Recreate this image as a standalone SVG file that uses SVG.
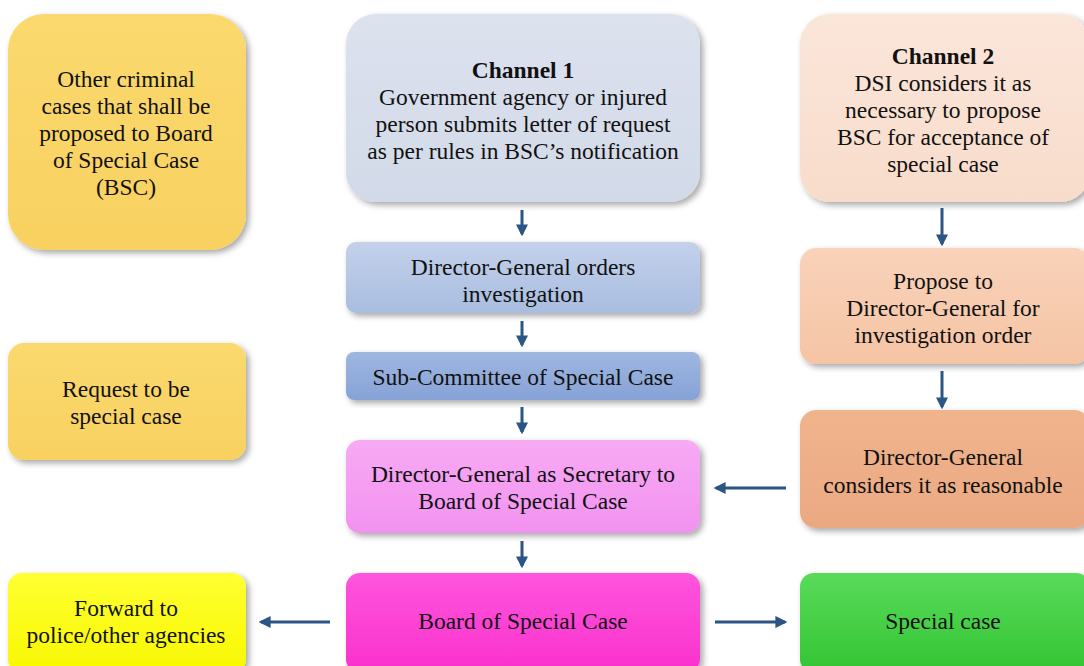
<svg xmlns="http://www.w3.org/2000/svg" width="1084" height="666" viewBox="0 0 1084 666">
<defs>
<filter id="sh" x="-10%" y="-10%" width="125%" height="125%">
<feDropShadow dx="3" dy="3" stdDeviation="3" flood-color="#000" flood-opacity="0.35"/>
</filter>
<linearGradient id="gGold" x1="0" y1="0" x2="0" y2="1"><stop offset="0" stop-color="#FBD96E"/><stop offset="1" stop-color="#F8D160"/></linearGradient>
<linearGradient id="gC1" x1="0" y1="0" x2="0" y2="1"><stop offset="0" stop-color="#DCE2EE"/><stop offset="1" stop-color="#D2D9E8"/></linearGradient>
<linearGradient id="gC2" x1="0" y1="0" x2="0" y2="1"><stop offset="0" stop-color="#FBE6DA"/><stop offset="1" stop-color="#F8DCCB"/></linearGradient>
<linearGradient id="gDG" x1="0" y1="0" x2="0" y2="1"><stop offset="0" stop-color="#C3D1EA"/><stop offset="1" stop-color="#A9BDE0"/></linearGradient>
<linearGradient id="gSub" x1="0" y1="0" x2="0" y2="1"><stop offset="0" stop-color="#9FB7E0"/><stop offset="1" stop-color="#86A2D6"/></linearGradient>
<linearGradient id="gSec" x1="0" y1="0" x2="0" y2="1"><stop offset="0" stop-color="#F7AAF4"/><stop offset="1" stop-color="#F292F0"/></linearGradient>
<linearGradient id="gBoard" x1="0" y1="0" x2="0" y2="1"><stop offset="0" stop-color="#FF55DD"/><stop offset="1" stop-color="#FA30CC"/></linearGradient>
<linearGradient id="gProp" x1="0" y1="0" x2="0" y2="1"><stop offset="0" stop-color="#F9D3BA"/><stop offset="1" stop-color="#F5C4A4"/></linearGradient>
<linearGradient id="gCons" x1="0" y1="0" x2="0" y2="1"><stop offset="0" stop-color="#F0B48C"/><stop offset="1" stop-color="#EBA982"/></linearGradient>
<linearGradient id="gFwd" x1="0" y1="0" x2="0" y2="1"><stop offset="0" stop-color="#FFFF33"/><stop offset="1" stop-color="#F8F800"/></linearGradient>
<linearGradient id="gSpec" x1="0" y1="0" x2="0" y2="1"><stop offset="0" stop-color="#5ADB5A"/><stop offset="1" stop-color="#33C433"/></linearGradient>
<marker id="ah" markerWidth="4" markerHeight="4" refX="3.2" refY="2" orient="auto" markerUnits="strokeWidth">
<path d="M0,0 L4,2 L0,4 Z" fill="#2A5584"/>
</marker>
</defs>
<style>
.box{filter:url(#sh)}
.t{font-size:23.5px;fill:#111;text-anchor:middle}
.b{font-weight:bold}
.c{stroke:#2A5584;stroke-width:3;fill:none;marker-end:url(#ah)}
</style>
<rect width="1084" height="666" fill="#fff"/>
<g font-family="Liberation Serif, Times New Roman, serif">
<g id="n-other">
<rect class="box" x="8" y="14" width="238" height="236" rx="36" fill="url(#gGold)"/>
<text class="t" x="126" y="87">Other criminal</text>
<text class="t" x="126" y="114">cases that shall be</text>
<text class="t" x="126" y="141">proposed to Board</text>
<text class="t" x="126" y="168">of Special Case</text>
<text class="t" x="126" y="195">(BSC)</text>
</g>

<g id="n-ch1">
<rect class="box" x="346" y="14" width="354" height="188" rx="30" fill="url(#gC1)"/>
<text class="t b" x="523" y="78">Channel 1</text>
<text class="t" x="523" y="105">Government agency or injured</text>
<text class="t" x="523" y="132">person submits letter of request</text>
<text class="t" x="523" y="159">as per rules in BSC’s notification</text>
</g>

<g id="n-ch2">
<rect class="box" x="800" y="14" width="290" height="188" rx="30" fill="url(#gC2)"/>
<text class="t b" x="943" y="64">Channel 2</text>
<text class="t" x="943" y="91">DSI considers it as</text>
<text class="t" x="943" y="118">necessary to propose</text>
<text class="t" x="943" y="145">BSC for acceptance of</text>
<text class="t" x="943" y="172">special case</text>
</g>

<g id="n-dgorders">
<rect class="box" x="346" y="242" width="354" height="71" rx="10" fill="url(#gDG)"/>
<text class="t" x="523" y="275">Director-General orders</text>
<text class="t" x="523" y="302">investigation</text>
</g>

<g id="n-sub">
<rect class="box" x="346" y="352" width="354" height="48" rx="8" fill="url(#gSub)"/>
<text class="t" x="523" y="385">Sub-Committee of Special Case</text>
</g>

<g id="n-sec">
<rect class="box" x="346" y="440" width="354" height="93" rx="14" fill="url(#gSec)"/>
<text class="t" x="523" y="482">Director-General as Secretary to</text>
<text class="t" x="523" y="509">Board of Special Case</text>
</g>

<g id="n-board">
<rect class="box" x="346" y="573" width="354" height="100" rx="14" fill="url(#gBoard)"/>
<text class="t" x="523" y="629">Board of Special Case</text>
</g>

<g id="n-request">
<rect class="box" x="8" y="343" width="238" height="117" rx="16" fill="url(#gGold)"/>
<text class="t" x="126" y="397">Request to be</text>
<text class="t" x="126" y="424">special case</text>
</g>

<g id="n-propose">
<rect class="box" x="800" y="248" width="290" height="116" rx="16" fill="url(#gProp)"/>
<text class="t" x="943" y="289">Propose to</text>
<text class="t" x="943" y="316">Director-General for</text>
<text class="t" x="943" y="343">investigation order</text>
</g>

<g id="n-considers">
<rect class="box" x="800" y="410" width="290" height="118" rx="16" fill="url(#gCons)"/>
<text class="t" x="943" y="465">Director-General</text>
<text class="t" x="943" y="493">considers it as reasonable</text>
</g>

<g id="n-forward">
<rect class="box" x="8" y="573" width="238" height="100" rx="14" fill="url(#gFwd)"/>
<text class="t" x="126" y="616">Forward to</text>
<text class="t" x="126" y="643">police/other agencies</text>
</g>

<g id="n-special">
<rect class="box" x="800" y="573" width="290" height="100" rx="14" fill="url(#gSpec)"/>
<text class="t" x="943" y="629">Special case</text>
</g>
</g>
<g id="connectors">
<line class="c" x1="522" y1="210" x2="522" y2="234"/>
<line class="c" x1="522" y1="321" x2="522" y2="345"/>
<line class="c" x1="522" y1="407" x2="522" y2="432"/>
<line class="c" x1="522" y1="541" x2="522" y2="566"/>
<line class="c" x1="942" y1="208" x2="942" y2="244"/>
<line class="c" x1="942" y1="371" x2="942" y2="407"/>
<line class="c" x1="786" y1="488" x2="716" y2="488"/>
<line class="c" x1="330" y1="622" x2="261" y2="622"/>
<line class="c" x1="715" y1="622" x2="785" y2="622"/>
</g>
</svg>
